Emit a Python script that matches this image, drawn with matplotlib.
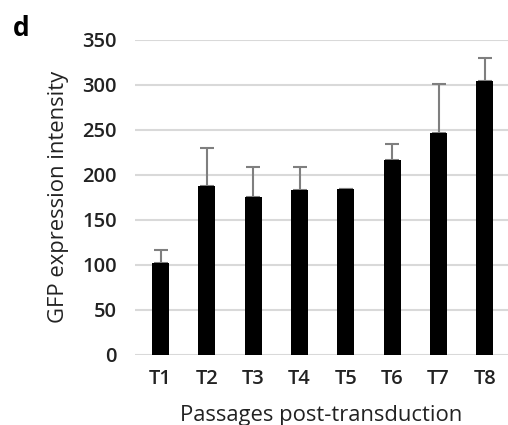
import matplotlib
matplotlib.use("Agg")
import matplotlib.pyplot as plt
import numpy as np

categories = ["T1", "T2", "T3", "T4", "T5", "T6", "T7", "T8"]
values = [102, 188, 176, 183, 184, 217, 247, 304]
errors = [14, 42, 33, 26, 0, 17, 54, 26]
yticks = [0, 50, 100, 150, 200, 250, 300, 350]

plt.rcParams['font.family'] = ['Open Sans', 'DejaVu Sans']

fig = plt.figure(figsize=(5.08, 4.25), dpi=100)
ax = fig.add_axes([0.266, 0.165, 0.734, 0.741])

x = np.arange(len(categories))
ax.bar(x, values, width=0.37, color='black', zorder=3)
ax.errorbar(x, values, yerr=[np.zeros(len(errors)), errors], fmt='none',
            ecolor='#7f7f7f', elinewidth=1.5, capsize=5, capthick=1.5, zorder=2)

ax.set_xlim(-0.55, 7.5)
ax.set_ylim(0, 350)
ax.set_yticks(yticks)
ax.set_xticks(x)
ax.set_xticklabels(categories)
ax.yaxis.grid(True, color='#d9d9d9', linewidth=1.5, zorder=0)
ax.set_axisbelow(True)
for s in ax.spines.values():
    s.set_visible(False)
ax.tick_params(axis='both', length=0, labelsize=14.5, colors='#222222')
ax.tick_params(axis='y', pad=13)
ax.tick_params(axis='x', pad=10)
for lbl in ax.get_xticklabels() + ax.get_yticklabels():
    lbl.set_fontweight('semibold')

ax.set_ylabel("GFP expression intensity", fontsize=15.8, color='#222222', labelpad=10)
ax.set_xlabel("Passages post-transduction", fontsize=15.8, color='#222222', labelpad=12)

fig.text(0.025, 0.965, "d", fontsize=19, fontweight='bold', va='top', ha='left')

fig.savefig("out.png", dpi=100)
